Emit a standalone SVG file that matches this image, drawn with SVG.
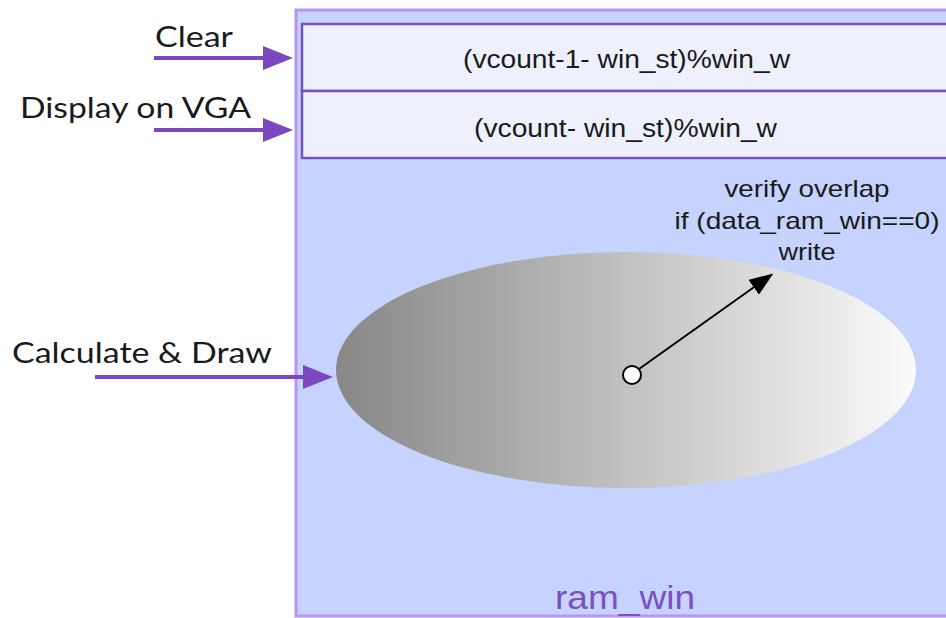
<svg xmlns="http://www.w3.org/2000/svg" width="946" height="618" viewBox="0 0 946 618">
<defs>
<style>
.lbl{font-family:Lato,"Open Sans","Liberation Sans",sans-serif;font-size:29px;fill:#1a1a1a}
.row{font-family:"Liberation Sans",Arial,sans-serif;font-size:25px;fill:#1a1a1a}
.note{font-family:"Liberation Sans",Arial,sans-serif;font-size:24px;fill:#1a1a1a}
.title{font-family:"Liberation Sans",Arial,sans-serif;font-size:34px;fill:#7d4fc2}
.rowbox{fill:#eef1fd;stroke:#7a4fc5;stroke-width:2.5}
.conn{fill:none;stroke:#7b48c0;stroke-width:4}
</style>
<marker id="pa" markerUnits="userSpaceOnUse" markerWidth="30" markerHeight="24" viewBox="0 0 30 24" refX="4" refY="12" orient="auto">
<path d="M0,0 L30,12 L0,24 z" fill="#7b48c0"/>
</marker>
<marker id="ba" markerUnits="userSpaceOnUse" markerWidth="24" markerHeight="18" viewBox="0 0 24 18" refX="4" refY="9" orient="auto">
<path d="M0,0 L24,9 L0,18 z" fill="#000"/>
</marker>
<linearGradient id="eg" x1="0" y1="0" x2="1" y2="0">
<stop offset="0" stop-color="#878787"/>
<stop offset="1" stop-color="#fbfbfb"/>
</linearGradient>
</defs>
<g id="ram_win">
<rect x="296" y="10" width="670" height="606" fill="#c5d3fe" stroke="#b694f4" stroke-width="3"/>
<text class="title" x="625" y="609" text-anchor="middle" textLength="140" lengthAdjust="spacingAndGlyphs">ram_win</text>
</g>
<g id="row1">
<rect class="rowbox" x="302" y="24" width="660" height="67"/>
<text class="row" x="463" y="68" textLength="327" lengthAdjust="spacingAndGlyphs">(vcount-1- win_st)%win_w</text>
</g>
<g id="row2">
<rect class="rowbox" x="302" y="91" width="660" height="67"/>
<text class="row" x="474" y="137" textLength="303" lengthAdjust="spacingAndGlyphs">(vcount- win_st)%win_w</text>
</g>
<g id="ellipse">
<ellipse cx="626" cy="370" rx="290" ry="118" fill="url(#eg)"/>
</g>
<g id="point">
<circle cx="632" cy="375" r="9" fill="#fff" stroke="#000" stroke-width="2"/>
</g>
<g id="note">
<text class="note" x="807" y="197" text-anchor="middle" textLength="165" lengthAdjust="spacingAndGlyphs">verify overlap</text>
<text class="note" x="807" y="229" text-anchor="middle" textLength="265" lengthAdjust="spacingAndGlyphs">if (data_ram_win==0)</text>
<text class="note" x="807" y="260" text-anchor="middle" textLength="57" lengthAdjust="spacingAndGlyphs">write</text>
</g>
<g id="label-clear"><text class="lbl" x="155" y="47" textLength="78" lengthAdjust="spacingAndGlyphs">Clear</text></g>
<g id="label-display"><text class="lbl" x="20" y="118" textLength="231" lengthAdjust="spacingAndGlyphs">Display on VGA</text></g>
<g id="label-calc"><text class="lbl" x="12" y="363" textLength="260" lengthAdjust="spacingAndGlyphs">Calculate &amp; Draw</text></g>
<g id="connectors">
<path class="conn" d="M154,58 L267,58" marker-end="url(#pa)"/>
<path class="conn" d="M154,130 L267,130" marker-end="url(#pa)"/>
<path class="conn" d="M95,377 L307,377" marker-end="url(#pa)"/>
<path d="M639,369 L757,285" fill="none" stroke="#000" stroke-width="2" marker-end="url(#ba)"/>
</g>
</svg>
